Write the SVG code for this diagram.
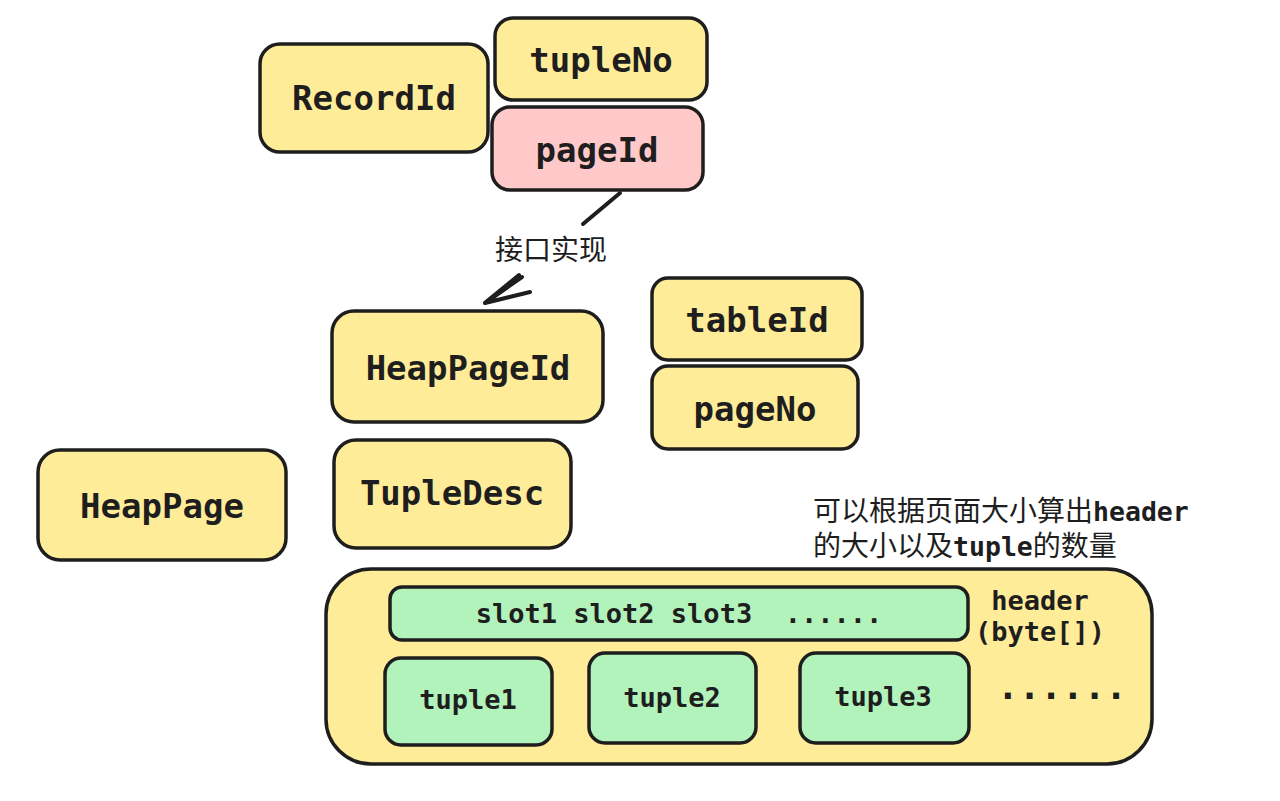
<svg xmlns="http://www.w3.org/2000/svg" width="1280" height="801" viewBox="0 0 1280 801">
<style>
.box{stroke:#1e1e1e;stroke-width:3.5;stroke-linejoin:round}
.y{fill:#ffec99}
.p{fill:#ffc9c9}
.g{fill:#b2f2bb}
.lbl{font-family:"DejaVu Sans Mono","Liberation Mono",monospace;font-weight:bold;fill:#1e1e1e;text-anchor:middle}
.big{font-size:34px}
.sm{font-size:27px}
.cjk{font-family:"Noto Sans CJK SC","Noto Sans",sans-serif;font-weight:normal;font-size:28px}
.mono{font-size:26.5px}
.conn{stroke:#1e1e1e;stroke-width:4;fill:none;stroke-linecap:round;stroke-linejoin:round}
</style>
<rect width="1280" height="801" fill="#ffffff"/>

<g id="RecordId">
<rect class="box y" x="260" y="44" width="228" height="108" rx="20"/>
<text class="lbl big" x="374" y="110">RecordId</text>
</g>
<g id="tupleNo">
<rect class="box y" x="495" y="18" width="212" height="82" rx="18"/>
<text class="lbl big" x="601" y="72">tupleNo</text>
</g>
<g id="pageId">
<rect class="box p" x="492" y="107" width="211" height="83" rx="18"/>
<text class="lbl big" x="597" y="162">pageId</text>
</g>
<g id="HeapPageId">
<rect class="box y" x="332" y="311" width="271" height="111" rx="22"/>
<text class="lbl big" x="468" y="380">HeapPageId</text>
</g>
<g id="tableId">
<rect class="box y" x="652" y="278" width="210" height="82" rx="16"/>
<text class="lbl big" x="757" y="332">tableId</text>
</g>
<g id="pageNo">
<rect class="box y" x="652" y="366" width="206" height="83" rx="16"/>
<text class="lbl big" x="755" y="421">pageNo</text>
</g>
<g id="TupleDesc">
<rect class="box y" x="334" y="440" width="237" height="108" rx="22"/>
<text class="lbl big" x="452" y="505">TupleDesc</text>
</g>
<g id="HeapPage">
<rect class="box y" x="38" y="450" width="248" height="110" rx="22"/>
<text class="lbl big" x="162" y="518">HeapPage</text>
</g>

<g id="note">
<text class="lbl" x="813" y="521" style="text-anchor:start"><tspan class="cjk">可以根据页面大小算出</tspan><tspan class="mono">header</tspan><tspan class="cjk" x="813" dy="35">的大小以及</tspan><tspan class="mono">tuple</tspan><tspan class="cjk">的数量</tspan></text>
</g>

<g id="HeapPageBody">
<rect class="box y" x="326" y="569" width="826" height="195" rx="45"/>
<text class="lbl sm" x="1040" y="610">header</text>
<text class="lbl sm" x="1040" y="641">(byte[])</text>
<text class="lbl" x="1062" y="699" style="font-size:36px">......</text>
</g>
<g id="header">
<rect class="box g" x="390" y="587" width="578" height="53" rx="12"/>
<text class="lbl sm" x="679" y="623" xml:space="preserve">slot1 slot2 slot3  ......</text>
</g>
<g id="tuple1">
<rect class="box g" x="385" y="658" width="167" height="87" rx="16"/>
<text class="lbl sm" x="468" y="709">tuple1</text>
</g>
<g id="tuple2">
<rect class="box g" x="589" y="653" width="167" height="90" rx="16"/>
<text class="lbl sm" x="672" y="707">tuple2</text>
</g>
<g id="tuple3">
<rect class="box g" x="800" y="653" width="169" height="90" rx="16"/>
<text class="lbl sm" x="883" y="706">tuple3</text>
</g>

<g id="connectors">
<path class="conn" d="M620 193 L583 224"/>
<path class="conn" d="M519 275 L486 302"/>
<path class="conn" d="M522 277 L485 303 L530 292"/>
<text class="lbl cjk" x="551" y="260">接口实现</text>
</g>
</svg>
